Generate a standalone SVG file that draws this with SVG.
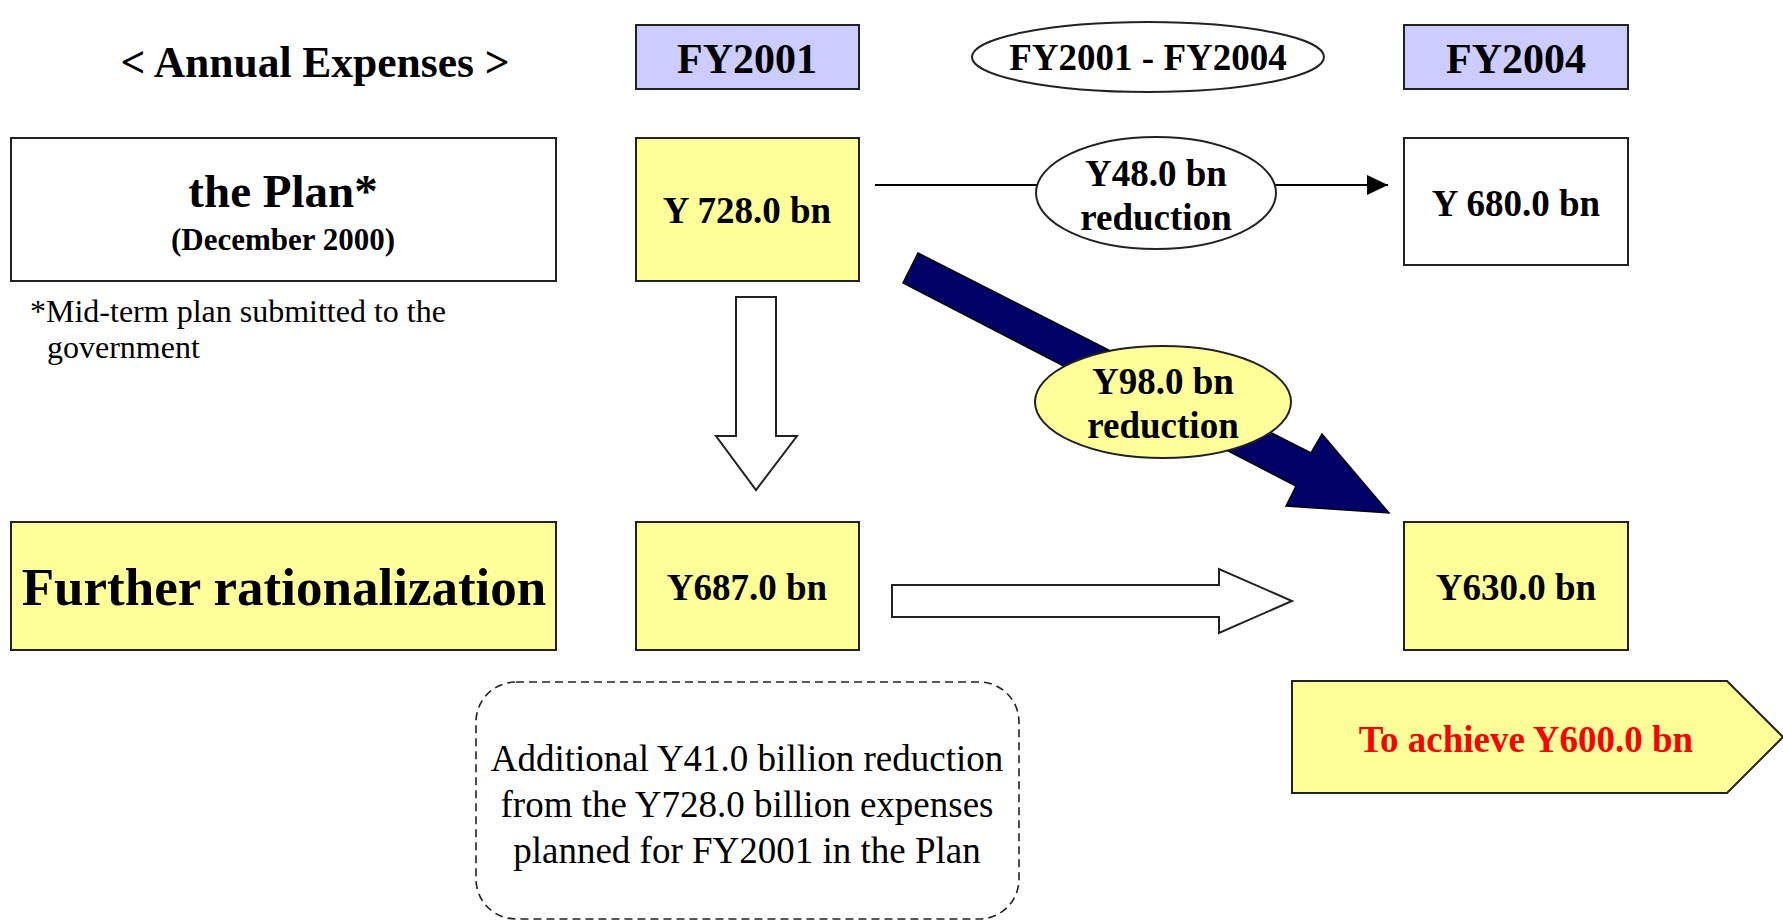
<svg xmlns="http://www.w3.org/2000/svg" width="1783" height="922" viewBox="0 0 1783 922">
<style>
text{font-family:"Liberation Serif","Times New Roman",serif;fill:#000;text-anchor:middle}
.b{font-weight:bold}
.box{stroke:#222;stroke-width:2}
.yel{fill:#FFFF99}
.lav{fill:#CCCCFF}
.wht{fill:#FFFFFF}
</style>
<defs>
<marker id="ah" markerWidth="22" markerHeight="20" refX="21" refY="10" orient="auto" markerUnits="userSpaceOnUse">
<path d="M0,0 L21,10 L0,20 Z" fill="#000"/>
</marker>
</defs>
<rect width="1783" height="922" fill="#fff"/>

<g id="title"><text class="b" x="315" y="77" font-size="43.5">&lt; Annual Expenses &gt;</text></g>

<g id="fy2001"><rect class="box lav" x="636" y="25" width="223" height="64"/><text class="b" x="747" y="73" font-size="42">FY2001</text></g>
<g id="period"><ellipse cx="1148" cy="57" rx="176" ry="35" fill="#fff" stroke="#222" stroke-width="2"/><text class="b" x="1148" y="70" font-size="37">FY2001 - FY2004</text></g>
<g id="fy2004"><rect class="box lav" x="1404" y="25" width="224" height="64"/><text class="b" x="1516" y="73" font-size="42">FY2004</text></g>

<g id="plan"><rect class="box wht" x="11" y="138" width="545" height="143"/><text class="b" x="283" y="207" font-size="47">the Plan*</text><text class="b" x="283" y="250" font-size="31">(December 2000)</text></g>
<g id="footnote"><text x="30" y="322" font-size="32" style="text-anchor:start">*Mid-term plan submitted to the</text><text x="47" y="358" font-size="32" style="text-anchor:start">government</text></g>

<g id="plan2001"><rect class="box yel" x="636" y="138" width="223" height="143"/><text class="b" x="747" y="223" font-size="37">Y 728.0 bn</text></g>
<g id="plan2004"><rect class="box wht" x="1404" y="138" width="224" height="127"/><text class="b" x="1516" y="216" font-size="37">Y 680.0 bn</text></g>

<g id="connectors">
<line x1="875" y1="185" x2="1388" y2="185" stroke="#000" stroke-width="2" marker-end="url(#ah)"/>
<polygon points="736,297 776,297 776,436 797,436 756,490 716,436 736,436" fill="#fff" stroke="#222" stroke-width="2"/>
<polygon points="892,585 1219,585 1219,569 1292,601 1219,633 1219,617 892,617" fill="#fff" stroke="#222" stroke-width="2"/>
<polygon points="918,253 1311,453 1322,434 1389,513 1286,506 1296,486 903,283" fill="#000066" stroke="#000" stroke-width="1.5"/>
</g>

<g id="red48"><ellipse cx="1156" cy="193" rx="120" ry="56" fill="#fff" stroke="#222" stroke-width="2"/><text class="b" x="1156" y="186" font-size="37">Y48.0 bn</text><text class="b" x="1156" y="230" font-size="37">reduction</text></g>
<g id="red98"><ellipse cx="1163" cy="402" rx="128" ry="56" fill="#FFFF99" stroke="#222" stroke-width="2"/><text class="b" x="1163" y="394" font-size="37">Y98.0 bn</text><text class="b" x="1163" y="438" font-size="37">reduction</text></g>

<g id="further"><rect class="box yel" x="11" y="522" width="545" height="128"/><text class="b" x="284" y="605" font-size="53">Further rationalization</text></g>
<g id="new2001"><rect class="box yel" x="636" y="522" width="223" height="128"/><text class="b" x="747" y="600" font-size="37">Y687.0 bn</text></g>
<g id="new2004"><rect class="box yel" x="1404" y="522" width="224" height="128"/><text class="b" x="1516" y="600" font-size="37">Y630.0 bn</text></g>

<g id="target"><polygon points="1292,681 1727,681 1783,737 1727,793 1292,793" fill="#FFFF99" stroke="#222" stroke-width="2"/><text class="b" x="1526" y="752" font-size="37" style="fill:#FF0000">To achieve Y600.0 bn</text></g>

<g id="note"><rect x="476" y="682" width="543" height="237" rx="40" ry="40" fill="#fff" stroke="#222" stroke-width="1.6" stroke-dasharray="8,5"/>
<text x="747" y="771" font-size="37">Additional Y41.0 billion reduction</text>
<text x="747" y="817" font-size="37">from the Y728.0 billion expenses</text>
<text x="747" y="863" font-size="37">planned for FY2001 in the Plan</text></g>
</svg>
